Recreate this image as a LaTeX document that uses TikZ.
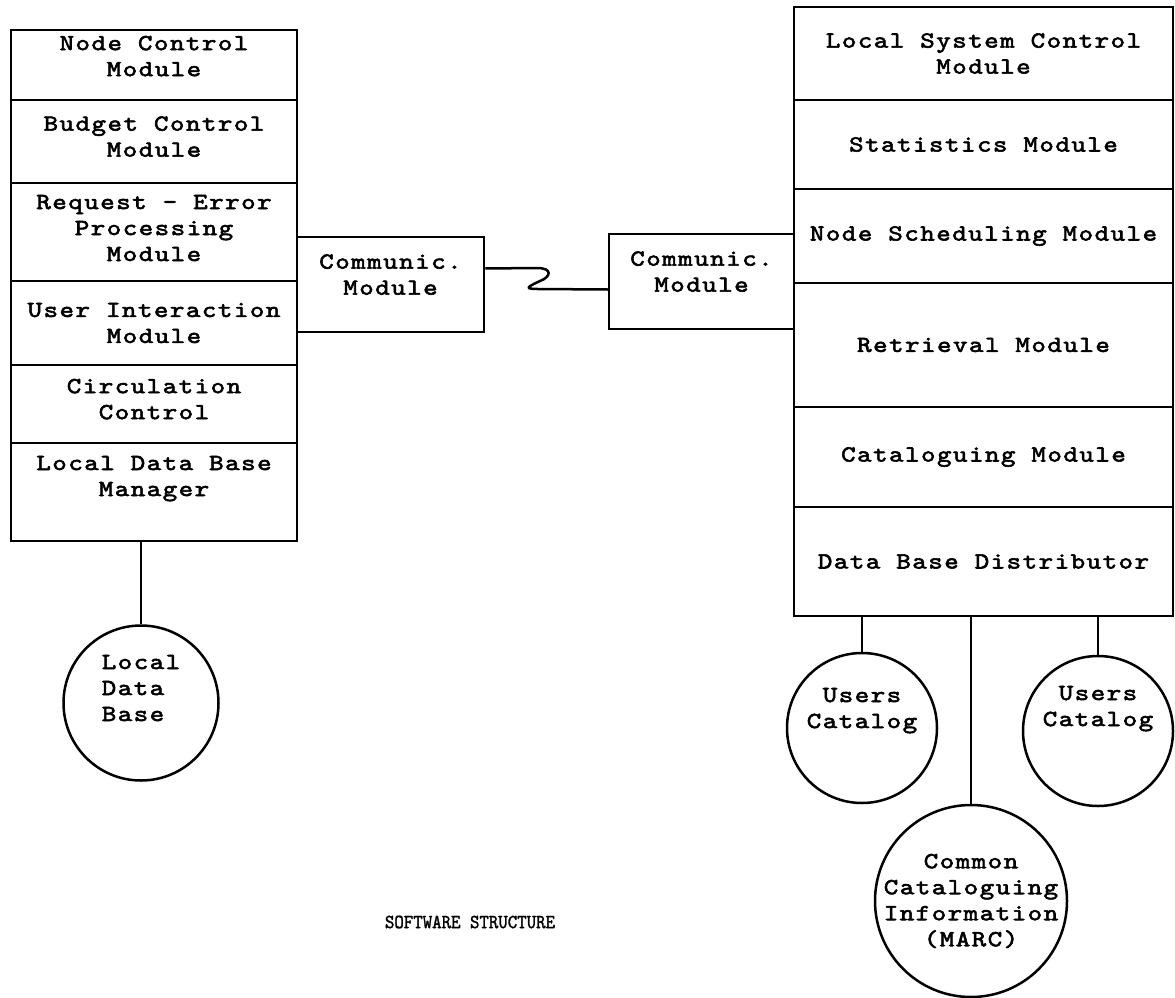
\documentclass[tikz,border=0pt]{standalone}
\usepackage{fontspec}
\newfontfamily\twfont{lmmono10-regular.otf}[FakeBold=2.5, FakeStretch=1.2, LetterSpace=6.5]
\newfontfamily\twtitlefont{lmmono10-regular.otf}[FakeBold=1.5, FakeStretch=0.9]
\usetikzlibrary{calc,positioning}

\begin{document}
\begin{tikzpicture}[
	%	style def
    x=1pt, y=-1pt,
    line width=2.5pt,
    cell/.style={draw, rectangle, inner sep=0pt, align=center, minimum width=286pt,
                 font={\twfont\fontsize{23}{26}\selectfont}},
    widecell/.style={cell, minimum width=379pt},
    commbox/.style={cell, minimum height=95pt},
    store/.style={draw, circle, inner sep=0pt,
                 font={\twfont\fontsize{23}{26}\selectfont}},
    every node/.style={color=black}
    ]
    \useasboundingbox (0,0) rectangle (1175,998);

	% node side (left stack)
    \node[cell, minimum height=70pt] (nctl) at (154,65) {Node Control\\Module\\[-8pt]~};
    \node[cell, minimum height=83pt] (bctl) at (154,141.5) {Budget Control\\Module\\[-16pt]~};
    \node[cell, minimum height=98pt] (rerr) at (154,232) {Request - Error\\Processing\\Module\\[-18pt]~};
    \node[cell, minimum height=84pt] (uint) at (154,323) {User Interaction\\Module};
    \node[cell, minimum height=78pt] (circ) at (154,404) {Circulation\\Control\\[-16pt]~};
    \node[cell, minimum height=98pt] (lmgr) at (154,492) {Local Data Base\\Manager\\[6pt]~};

	% local system side (right stack)
    \node[widecell, minimum height=93pt] (lsys) at (983.5,53.5) {Local System Control\\Module};
    \node[widecell, minimum height=89pt] (stat) at (983.5,144.5) {Statistics Module};
    \node[widecell, minimum height=94pt] (nsch) at (983.5,236) {Node Scheduling Module};
    \node[widecell, minimum height=124pt] (retr) at (983.5,345) {Retrieval Module};
    \node[widecell, minimum height=100pt] (catm) at (983.5,457) {Cataloguing Module};
    \node[widecell, minimum height=109pt] (dbd) at (983.5,561.5) {Data Base Distributor};

	% communication modules
    \node[commbox, minimum width=187pt] (lcomm) at (390.5,284.5) {Communic.\\Module\\[-6pt]~};
    \node[commbox, minimum width=185pt] (rcomm) at (701.5,281.5) {Communic.\\Module\\[-6pt]~};
    \coordinate (lout) at ([yshift=16pt]lcomm.east);
    \coordinate (rin) at ([yshift=-8pt]rcomm.west);
    \draw (lout) -- (537,268) .. controls (553,268) and (551,277) .. (540,281)
          .. controls (527,287) and (524,289) .. (538,289) -- (rin);

	% data bases
    \node[store, minimum size=155pt, align=left] (ldb) at (141,703) {Local\\Data\\Base\\[4pt]~};
    \node[store, minimum size=150pt, align=center] (uc1) at (862,728) {Users\\Catalog\\[14pt]~};
    \node[store, minimum size=150pt, align=center] (uc2) at (1098,731) {Users\\Catalog\\[24pt]~};
    \node[store, minimum size=192pt, align=center, inner sep=-10pt] (ccat) at (971,901) {Common\\Cataloguing\\Information\\(MARC)};

    \draw (ldb.north) -- (ldb.north |- lmgr.south);
    \draw (uc1.north) -- (uc1.north |- dbd.south);
    \draw (uc2.north) -- (uc2.north |- dbd.south);
    \draw (ccat.north) -- (ccat.north |- dbd.south);

    %caption
    \node[font={\twtitlefont\fontsize{20}{24}\selectfont}] (title) at (470,922) {SOFTWARE STRUCTURE};
\end{tikzpicture}
\end{document}
